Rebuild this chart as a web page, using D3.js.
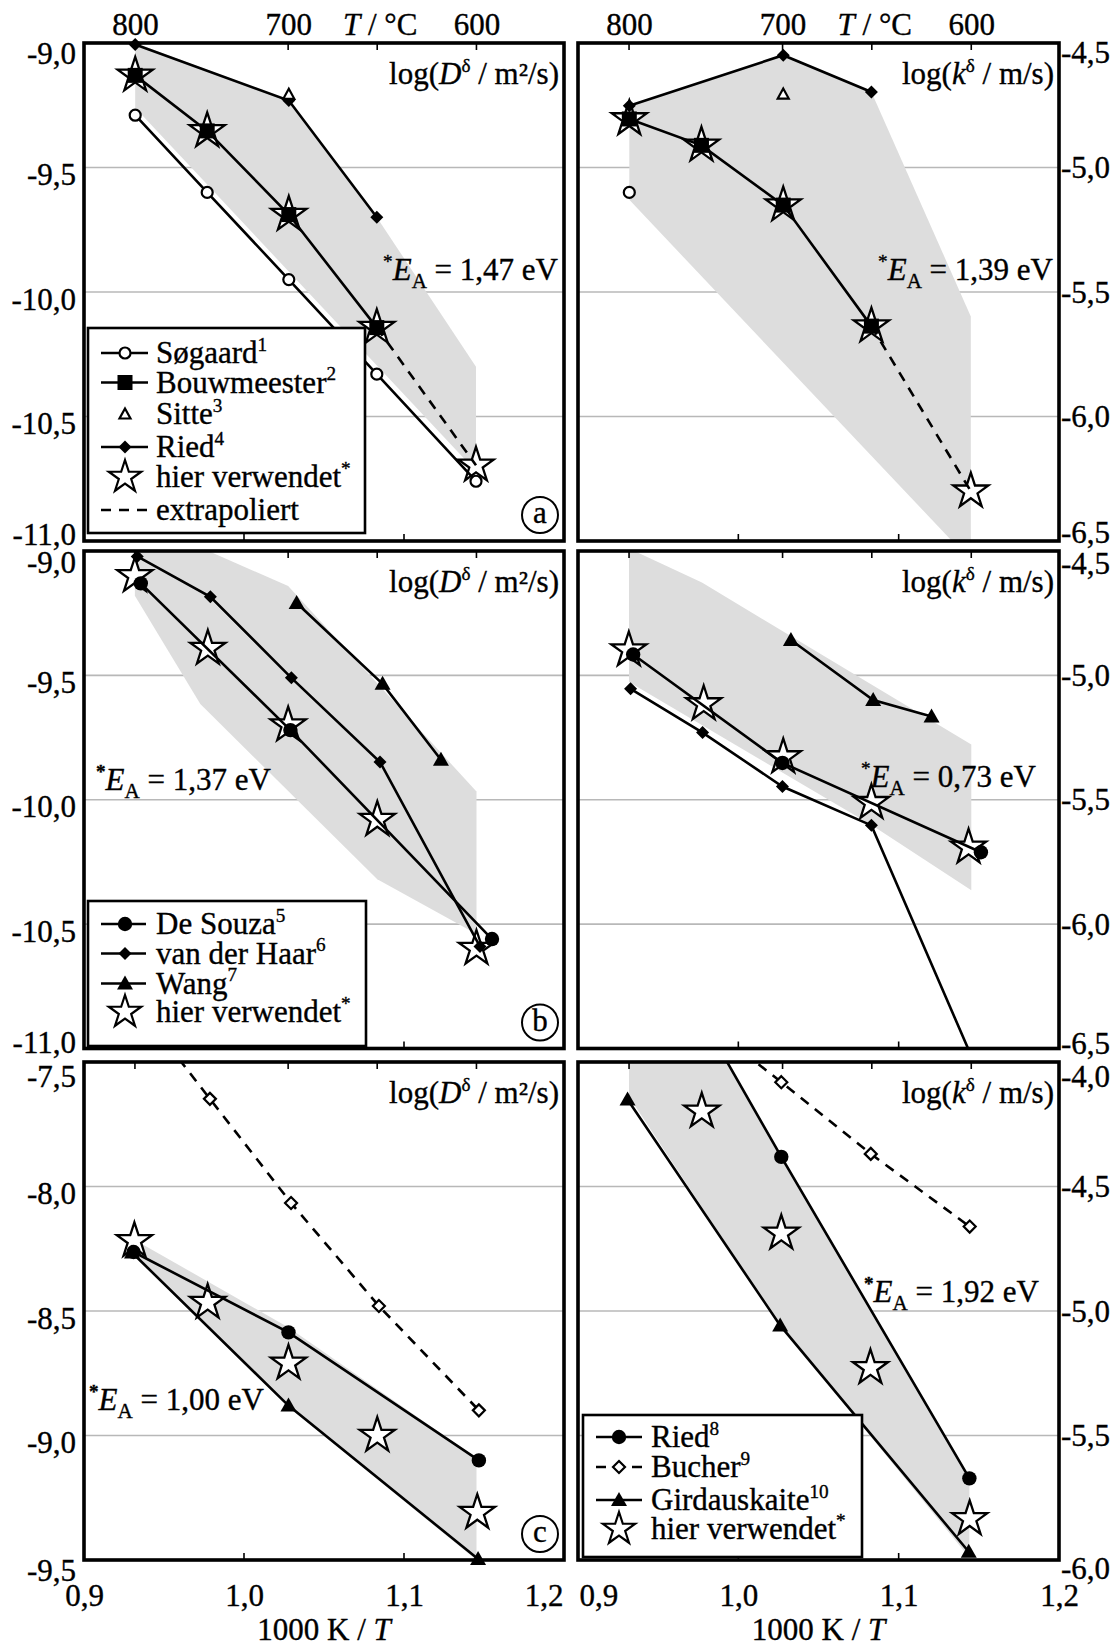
<!DOCTYPE html>
<html><head><meta charset="utf-8">
<script src="https://cdn.jsdelivr.net/npm/d3@7"></script>
<style>
body{margin:0;background:#fff}
svg{display:block}
text{font-family:"Liberation Serif","Times New Roman",serif;fill:#000;stroke:#000;stroke-width:0.35px}
</style>
</head><body>
<svg id="c" width="1118" height="1647"></svg>
<script>
// ---------- axis data ----------
const xTickVals = [0.9, 1.0, 1.1, 1.2];
const xTickLabels = ["0,9", "1,0", "1,1", "1,2"];
const tempTicks = [800, 700, 600];
const tempTitleAt = 650;
const yTicksD12 = [-9.0, -9.5, -10.0, -10.5, -11.0];
const yTicksK12 = [-4.5, -5.0, -5.5, -6.0, -6.5];
const yTicksD3 = [-7.5, -8.0, -8.5, -9.0, -9.5];
const yTicksK3 = [-4.0, -4.5, -5.0, -5.5, -6.0];

// ---------- panel a : D ----------
const sogaardA = [[0.932,-9.29],[0.977,-9.60],[1.028,-9.95],[1.083,-10.33],[1.145,-10.76]];
const bouwA = [[0.932,-9.13],[0.977,-9.353],[1.028,-9.689],[1.083,-10.143]];
const bouwExtraA = [[1.083,-10.143],[1.145,-10.696]];
const sitteA = [[1.028,-9.206]];
const riedA = [[0.932,-9.006],[1.028,-9.231],[1.083,-9.70]];
const starsA = [[0.932,-9.13],[0.977,-9.353],[1.028,-9.689],[1.083,-10.143],[1.145,-10.696]];
const grayA = [[0.932,-9.0],[1.028,-9.23],[1.083,-9.70],[1.145,-10.30],[1.145,-10.72],[0.932,-9.26]];

// ---------- panel a' : k ----------
const riedK1 = [[0.932,-4.752],[1.028,-4.549],[1.083,-4.697]];
const sitteK1 = [[1.028,-4.705]];
const sogaardK1 = [[0.932,-5.10]];
const bouwK1 = [[0.932,-4.805],[0.977,-4.911],[1.028,-5.151],[1.083,-5.637]];
const bouwExtraK1 = [[1.083,-5.637],[1.145,-6.30]];
const starsK1 = [[0.932,-4.805],[0.977,-4.911],[1.028,-5.151],[1.083,-5.637],[1.145,-6.30]];
const grayK1 = [[0.932,-4.75],[1.028,-4.549],[1.083,-4.697],[1.145,-5.598],[1.145,-6.58],[0.932,-5.13]];

// ---------- panel b : D ----------
const deSouzaB = [[0.9355,-9.13],[1.029,-9.72],[1.155,-10.56]];
const vdHaarB = [[0.9333,-9.022],[0.979,-9.184],[1.0296,-9.51],[1.085,-9.848],[1.1475,-10.59]];
const wangB = [[1.0329,-9.209],[1.0866,-9.534],[1.1231,-9.839]];
const starsB = [[0.9318,-9.10],[0.9774,-9.392],[1.0276,-9.70],[1.0833,-10.08],[1.1453,-10.598]];
const grayB = [[0.9318,-8.87],[1.0276,-9.141],[1.1453,-9.967],[1.1453,-10.54],[1.0833,-10.32],[0.9727,-9.615],[0.9318,-9.18]];

// ---------- panel b' : k ----------
const deSouzaK2 = [[0.9344,-4.916],[1.0275,-5.352],[1.1513,-5.711]];
const vdHaarK2 = [[0.9328,-5.054],[0.9777,-5.230],[1.0275,-5.447],[1.083,-5.603],[1.1453,-6.53]];
const wangK2 = [[1.0328,-4.858],[1.0841,-5.099],[1.1205,-5.165]];
const starsK2 = [[0.9317,-4.898],[0.9784,-5.115],[1.028,-5.328],[1.083,-5.512],[1.1436,-5.691]];
const grayK2 = [[0.9318,-4.49],[0.9773,-4.627],[1.1453,-5.278],[1.1453,-5.864],[1.0833,-5.603],[0.9318,-5.027]];

// ---------- panel c : D ----------
const bucherD = [[0.9318,-7.26],[0.9787,-7.648],[1.0294,-8.066],[1.0843,-8.480],[1.1468,-8.899]];
const riedD = [[0.931,-8.263],[1.0278,-8.586],[1.1468,-9.10]];
const girdD = [[0.930,-8.265],[1.0278,-8.88],[1.1463,-9.496]];
const starsD = [[0.9315,-8.218],[0.9773,-8.466],[1.0278,-8.71],[1.0833,-9.0],[1.1458,-9.31]];
const grayD = [[0.9318,-8.215],[1.0276,-8.565],[1.1453,-9.09],[1.1453,-9.5],[1.0276,-8.885],[0.9318,-8.28]];

// ---------- panel c' : k ----------
const riedK3 = [[0.9318,-3.31],[1.0268,-4.381],[1.1441,-5.672]];
const bucherK3 = [[0.9773,-3.83],[1.0268,-4.081],[1.0826,-4.369],[1.1443,-4.661]];
const girdK3 = [[0.9309,-4.151],[1.0261,-5.058],[1.1437,-5.967]];
const starsK3 = [[0.9772,-4.198],[1.0268,-4.688],[1.0824,-5.228],[1.1443,-5.835]];
const grayK3 = [[0.9318,-3.31],[1.0268,-4.381],[1.1441,-5.672],[1.1441,-5.99],[1.0261,-5.058],[0.9318,-4.14]];

// ---------- legends / labels ----------
const legendA = [["circleOpen","line","Søgaard","1"],["square","line","Bouwmeester","2"],["triOpen","none","Sitte","3"],["diamond","line","Ried","4"],["star","none","hier verwendet","*"],[null,"dash","extrapoliert",""]];
const legendB = [["circle","line","De Souza","5"],["diamond","line","van der Haar","6"],["tri","line","Wang","7"],["star","none","hier verwendet","*"]];
const legendC = [["circle","line","Ried","8"],["diamondOpen","dash","Bucher","9"],["tri","line","Girdauskaite","10"],["star","none","hier verwendet","*"]];
const activationEnergies = ["1,47","1,39","1,37","0,73","1,00","1,92"];
const panelLetters = ["a","b","c"];

// ================= drawing =================
const svg = d3.select("#c");
const FS = 31;
const colX = [[84,564],[578,1059]];
const rowY = [[43,541],[551,1048.5],[1062,1560]];
const fmt = d => d.toFixed(1).replace(".", ",");
// label vertical offsets (px) [top, inner, bottom] per row and side
const labOffLeft = [[10,7,-7],[11,7,-6],[14,7,10]];
const labOffRight = [[9,0,-9],[12,0,-5],[14,0,8]];

function rich(sel, parts, fs){
  let shift = 0;
  parts.forEach(p => {
    const ts = sel.append("tspan").text(p.t);
    let target = 0, size = fs;
    if (p.sup){ target = -0.40*fs; size = fs*0.62; }
    if (p.sub){ target = 0.26*fs; size = fs*0.68; }
    ts.attr("dy", target - shift).attr("font-size", size);
    if (p.it) ts.attr("font-style","italic");
    if (p.b) ts.attr("font-weight","bold");
    shift = target;
  });
}

function starPath(R){
  const r = R*0.382, pts = [];
  for (let i=0;i<10;i++){
    const a = -Math.PI/2 + i*Math.PI/5, rad = i%2 ? r : R;
    pts.push([rad*Math.cos(a), rad*Math.sin(a)]);
  }
  return "M" + pts.map(p=>p[0].toFixed(2)+","+p[1].toFixed(2)).join("L") + "Z";
}

function marker(g, type, cx, cy){
  if (!type) return;
  if (type === "circleOpen") g.append("circle").attr("cx",cx).attr("cy",cy).attr("r",5.5).attr("fill","#fff").attr("stroke","#000").attr("stroke-width",2.2);
  else if (type === "circle") g.append("circle").attr("cx",cx).attr("cy",cy).attr("r",7.2).attr("fill","#000");
  else if (type === "square") g.append("rect").attr("x",cx-7.5).attr("y",cy-7.5).attr("width",15).attr("height",15).attr("fill","#000");
  else if (type === "diamond") g.append("path").attr("d",`M${cx},${cy-6.5}L${cx+6.5},${cy}L${cx},${cy+6.5}L${cx-6.5},${cy}Z`).attr("fill","#000");
  else if (type === "diamondOpen") g.append("path").attr("d",`M${cx},${cy-6}L${cx+6},${cy}L${cx},${cy+6}L${cx-6},${cy}Z`).attr("fill","#fff").attr("stroke","#000").attr("stroke-width",2.2);
  else if (type === "tri") g.append("path").attr("d",`M${cx},${cy-8}L${cx+8},${cy+6}L${cx-8},${cy+6}Z`).attr("fill","#000");
  else if (type === "triOpen") g.append("path").attr("d",`M${cx},${cy-5.5}L${cx+5.5},${cy+4.5}L${cx-5.5},${cy+4.5}Z`).attr("fill","#fff").attr("stroke","#000").attr("stroke-width",2.2);
  else if (type === "star") g.append("path").attr("d",starPath(18.5)).attr("transform",`translate(${cx},${cy})`).attr("fill","#fff").attr("stroke","#000").attr("stroke-width",2.3).attr("stroke-linejoin","miter");
}

let clipN = 0;
function panel(p){
  const xr = colX[p.col], yr = rowY[p.row];
  const x = d3.scaleLinear().domain([0.9,1.2]).range(xr);
  const y = d3.scaleLinear().domain([p.yticks[0], p.yticks[p.yticks.length-1]]).range(yr);
  const g = svg.append("g");
  const id = "clip" + (clipN++);
  svg.append("clipPath").attr("id", id).append("rect")
    .attr("x", xr[0]).attr("y", yr[0]).attr("width", xr[1]-xr[0]).attr("height", yr[1]-yr[0]);

  // gridlines
  g.selectAll("line.grid").data(p.yticks.slice(1,-1)).join("line").attr("class","grid")
    .attr("x1", xr[0]).attr("x2", xr[1]).attr("y1", d=>y(d)).attr("y2", d=>y(d))
    .attr("stroke","#b8b8b8").attr("stroke-width",1.6);

  const cg = g.append("g").attr("clip-path", `url(#${id})`);
  const line = d3.line().x(d=>x(d[0])).y(d=>y(d[1]));
  cg.append("path").attr("d", line(p.gray) + "Z").attr("fill","#dddddd");

  const inRange = d => d[1] <= p.yticks[0] + 0.02 && d[1] >= p.yticks[p.yticks.length-1] - 0.02;
  // stars
  const sg = g.append("g");
  p.stars.filter(inRange).forEach(d => marker(sg, "star", x(d[0]), y(d[1])));

  // lines
  const lg0 = g.append("g").attr("clip-path", `url(#${id})`);
  p.series.forEach(s => {
    if (s.line !== false) {
      lg0.append("path").attr("d", line(s.data)).attr("fill","none").attr("stroke","#000")
        .attr("stroke-width", 2.6).attr("stroke-dasharray", s.dash ? "10,8" : null);
    }
  });
  // markers
  const pg = g.append("g");
  p.series.forEach(s => {
    if (s.marker) s.data.filter(inRange).forEach(d => marker(pg, s.marker, x(d[0]), y(d[1])));
  });

  // frame
  g.append("rect").attr("x", xr[0]).attr("y", yr[0]).attr("width", xr[1]-xr[0]).attr("height", yr[1]-yr[0])
    .attr("fill","none").attr("stroke","#000").attr("stroke-width",3.6);

  // inward ticks
  g.selectAll("line.bt").data([1.0,1.1]).join("line").attr("class","bt")
    .attr("x1", d=>x(d)).attr("x2", d=>x(d)).attr("y1", yr[1]).attr("y2", yr[1]-7)
    .attr("stroke","#000").attr("stroke-width",1.6);
  g.selectAll("line.tt").data(tempTicks.concat([tempTitleAt])).join("line").attr("class","tt")
    .attr("x1", d=>x(1000/(d+273.15))).attr("x2", d=>x(1000/(d+273.15))).attr("y1", yr[0]).attr("y2", yr[0]+7)
    .attr("stroke","#000").attr("stroke-width",1.6);

  // y axis labels
  const n = p.yticks.length;
  const offs = (p.col === 0 ? labOffLeft : labOffRight)[p.row];
  const ax = p.col === 0 ? d3.axisLeft(y).tickPadding(8) : d3.axisRight(y).tickPadding(2);
  const ag = g.append("g").attr("transform", `translate(${p.col===0?xr[0]:xr[1]},0)`)
    .call(ax.tickValues(p.yticks).tickFormat(fmt).tickSize(0));
  ag.select(".domain").remove();
  ag.selectAll("text").attr("font-size", FS).attr("font-family","Liberation Serif")
    .attr("dy", (d,i) => (10 + (i === 0 ? offs[0] : i === n-1 ? offs[2] : offs[1])) + "px");

  // quantity label
  const lt = g.append("text").attr("x", xr[1]-5).attr("y", yr[0]+41).attr("text-anchor","end").attr("font-size",FS);
  rich(lt, [{t:"log("},{t:p.col===0?"D":"k", it:true},{t:"δ", sup:true},{t:p.col===0?" / m²/s)":" / m/s)"}], FS);

  // activation energy
  const et = g.append("text").attr("x", p.ea.x).attr("y", p.ea.y).attr("text-anchor", p.ea.anchor).attr("font-size",FS);
  rich(et, [{t:"*", sup:true, b:p.ea.bold},{t:"E", it:true},{t:"A", sub:true},{t:" = " + p.ea.v + " eV"}], FS);

  // legend
  if (p.legend) {
    const L = p.legendBox;
    const lg = g.append("g");
    lg.append("rect").attr("x", L.x).attr("y", L.y).attr("width", L.w).attr("height", L.h)
      .attr("fill","#fff").attr("stroke","#000").attr("stroke-width",2.6);
    p.legend.forEach((e, i) => {
      const cy = L.ys[i];
      if (e[1] === "line" || e[1] === "dash")
        lg.append("line").attr("x1", L.lx0).attr("x2", L.lx1).attr("y1", cy).attr("y2", cy)
          .attr("stroke","#000").attr("stroke-width",2.6).attr("stroke-dasharray", e[1]==="dash" ? "10,8" : null);
      if (e[0] === "star")
        lg.append("path").attr("d", starPath(17)).attr("transform",`translate(${L.mx},${cy})`)
          .attr("fill","#fff").attr("stroke","#000").attr("stroke-width",2.2);
      else marker(lg, e[0], L.mx, cy);
      const t = lg.append("text").attr("x", L.tx).attr("y", cy+10).attr("font-size",FS);
      rich(t, [{t:e[2]},{t:e[3], sup:true}], FS);
    });
  }

  // panel letter
  if (p.letter) {
    const cx = xr[1]-24, cy = yr[1]-26;
    g.append("circle").attr("cx",cx).attr("cy",cy).attr("r",18).attr("fill","#fff").attr("stroke","#000").attr("stroke-width",2);
    g.append("text").attr("x",cx).attr("y",cy+8).attr("text-anchor","middle").attr("font-size",FS).text(p.letter);
  }

  // top temperature axis (first row)
  if (p.row === 0) {
    const tg = g.append("g").attr("transform", `translate(0,${yr[0]})`)
      .call(d3.axisTop(x).tickValues(tempTicks.map(t => 1000/(t+273.15)))
        .tickFormat((d,i) => String(tempTicks[i])).tickSize(0).tickPadding(8));
    tg.select(".domain").remove();
    tg.selectAll("text").attr("font-size",FS).attr("font-family","Liberation Serif").attr("dy","0px")
      .attr("y", 35 - yr[0]);
    const tt = g.append("text").attr("x", x(1000/(tempTitleAt+273.15)) + 3).attr("y", 35)
      .attr("text-anchor","middle").attr("font-size",FS);
    rich(tt, [{t:"T", it:true},{t:" / °C"}], FS);
  }

  // bottom axis (last row)
  if (p.row === 2) {
    const bg = g.append("g").attr("transform", `translate(0,${yr[1]})`)
      .call(d3.axisBottom(x).tickValues(xTickVals).tickFormat((d,i)=>xTickLabels[i]).tickSize(0));
    bg.select(".domain").remove();
    bg.selectAll("text").attr("font-size",FS).attr("font-family","Liberation Serif")
      .attr("y", 1606 - yr[1]).attr("dy","0px")
      .attr("text-anchor", (d,i) => (p.col===0 && i===3) ? "end" : (p.col===1 && i===0) ? "start" : "middle")
      .attr("x", (d,i) => (p.col===0 && i===3) ? -1 : (p.col===1 && i===0) ? 1 : 0);
    const bt = g.append("text").attr("x", (xr[0]+xr[1])/2).attr("y", 1640).attr("text-anchor","middle").attr("font-size",FS);
    rich(bt, [{t:"1000 K / "},{t:"T", it:true}], FS);
  }
}

const seriesA = [
  {data: sogaardA, marker:"circleOpen"},
  {data: bouwExtraA, marker:null, dash:true},
  {data: bouwA, marker:"square"},
  {data: riedA, marker:"diamond"},
  {data: sitteA, marker:"triOpen", line:false}
];
const seriesK1 = [
  {data: riedK1, marker:"diamond"},
  {data: bouwExtraK1, marker:null, dash:true},
  {data: bouwK1, marker:"square"},
  {data: sitteK1, marker:"triOpen", line:false},
  {data: sogaardK1, marker:"circleOpen", line:false}
];
const seriesB = [
  {data: deSouzaB, marker:"circle"},
  {data: vdHaarB, marker:"diamond"},
  {data: wangB, marker:"tri"}
];
const seriesK2 = [
  {data: deSouzaK2, marker:"circle"},
  {data: vdHaarK2, marker:"diamond"},
  {data: wangK2, marker:"tri"}
];
const seriesD = [
  {data: bucherD, marker:"diamondOpen", dash:true},
  {data: riedD, marker:"circle"},
  {data: girdD, marker:"tri"}
];
const seriesK3 = [
  {data: bucherK3, marker:"diamondOpen", dash:true},
  {data: riedK3, marker:"circle"},
  {data: girdK3, marker:"tri"}
];

panel({row:0,col:0,yticks:yTicksD12,gray:grayA,stars:starsA,series:seriesA,letter:panelLetters[0],
  ea:{x:558,y:280,anchor:"end",v:activationEnergies[0]},
  legend:legendA, legendBox:{x:88,y:328,w:277,h:205,ys:[353,382.5,414,447,477,510],lx0:101,lx1:148,mx:125,tx:156}});
panel({row:0,col:1,yticks:yTicksK12,gray:grayK1,stars:starsK1,series:seriesK1,
  ea:{x:1053,y:280,anchor:"end",v:activationEnergies[1]}});
panel({row:1,col:0,yticks:yTicksD12,gray:grayB,stars:starsB,series:seriesB,letter:panelLetters[1],
  ea:{x:96,y:790,anchor:"start",v:activationEnergies[2],bold:true},
  legend:legendB, legendBox:{x:88,y:901,w:278,h:145,ys:[924,953.5,983.5,1012],lx0:101,lx1:146,mx:125,tx:156}});
panel({row:1,col:1,yticks:yTicksK12,gray:grayK2,stars:starsK2,series:seriesK2,
  ea:{x:861,y:787,anchor:"start",v:activationEnergies[3]}});
panel({row:2,col:0,yticks:yTicksD3,gray:grayD,stars:starsD,series:seriesD,letter:panelLetters[2],
  ea:{x:89,y:1410,anchor:"start",v:activationEnergies[4],bold:true}});
panel({row:2,col:1,yticks:yTicksK3,gray:grayK3,stars:starsK3,series:seriesK3,
  ea:{x:864,y:1302,anchor:"start",v:activationEnergies[5],bold:true},
  legend:legendC, legendBox:{x:583,y:1415,w:279,h:142,ys:[1437,1467,1500,1529],lx0:596,lx1:642,mx:619,tx:651}});
</script>
</body></html>
